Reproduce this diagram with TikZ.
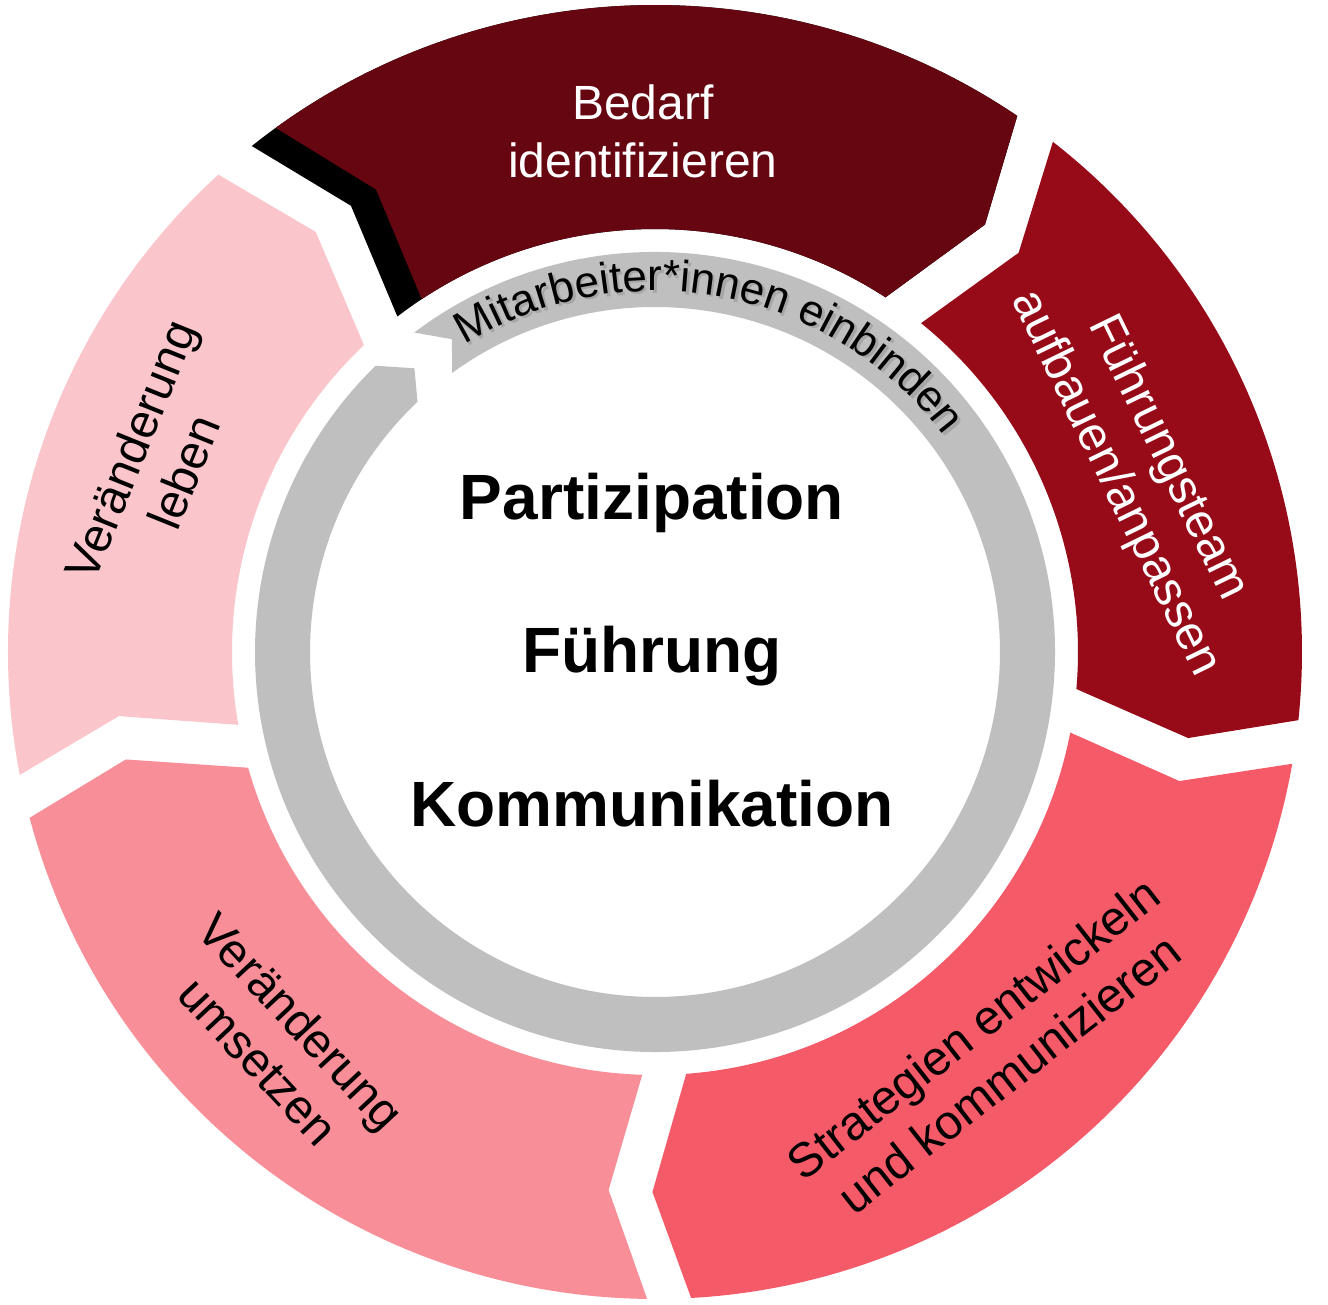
\documentclass[tikz,border=0pt]{standalone}
\usepackage{fontspec}
\setmainfont{Liberation Sans}
\usetikzlibrary{decorations.text}
\definecolor{cBedarf}{HTML}{660610}
\definecolor{cFuehr}{HTML}{970A17}
\definecolor{cStrat}{HTML}{F55A69}
\definecolor{cUms}{HTML}{F88E98}
\definecolor{cLeben}{HTML}{FAC6CC}
\definecolor{cGray}{HTML}{BFBFBF}
\definecolor{cShadow}{HTML}{A6A6A6}
% segment: outer-trailing, mid-trailing, inner-trailing, outer-leading, mid-leading, inner-leading, colour
\newcommand\cycseg[7]{%
  \fill[#7] (#1:647pt) arc[start angle=#1, end angle=#4, radius=647pt]
    -- (#5:540pt) -- (#6:423pt)
    arc[start angle=#6, end angle=#3, radius=423pt]
    -- (#2:540pt) -- cycle;}
\newcommand\ringlabel[2]{%
  \path[decorate, #1, decoration={text along path, text align=center,
    text={|\fontsize{44}{44}\selectfont\color{#2}|Mitarbeiter*innen einbinden}}]
    (130:361pt) arc[start angle=130, end angle=28.6, radius=361pt];}
\begin{document}
\begin{tikzpicture}[x=1pt,y=1pt,
  segtext/.style={font=\fontsize{48}{58}\selectfont, align=center, inner sep=0pt},
  midtext/.style={font=\fontsize{64}{64}\selectfont\bfseries, anchor=base, inner sep=0pt}]
\useasboundingbox (-655,-653) rectangle (673,652);
\fill[white] (-655,-653) rectangle (673,652);
% outer segments
\cycseg{128.55}{124.27}{127.52}{55.95}{52.33}{56.98}{black}
\cycseg{125.89}{121.09}{123.46}{55.95}{52.33}{56.98}{cBedarf}
\cycseg{52.05}{47.67}{51.02}{-6.05}{-9.17}{-5.02}{cFuehr}
\cycseg{-9.95}{-13.83}{-10.98}{-86.8}{-90.27}{-85.77}{cStrat}
\cycseg{-90.7}{-94.93}{-91.73}{-165.15}{-168.52}{-164.12}{cUms}
\cycseg{190.95}{186.82}{189.92}{132.45}{128.93}{133.48}{cLeben}
% inner gray ring arrow
\fill[cGray] (127:400pt) arc[start angle=127, end angle=-225.7, radius=400pt]
  -- (-229.7:372pt) -- (-226.5:345pt)
  arc[start angle=-226.5, end angle=126, radius=345pt]
  -- (123:373pt) -- cycle;
% text along the ring, with a soft shadow
\ringlabel{shift={(2.5,-2.5)}}{cShadow}
\ringlabel{}{black}
% segment labels
\node[segtext, text=white] (bedarf) at (-12,521) {Bedarf\\identifizieren};
\node[segtext, text=white, rotate=-64] (fuehrung) at (486,181) {Führungsteam\\aufbauen/anpassen};
\node[segtext, text=black, rotate=38] (strat) at (336,-399) {Strategien entwickeln\\und kommunizieren};
\node[segtext, text=black, rotate=-47] (umsetzen) at (-375,-389) {Veränderung\\umsetzen};
\node[segtext, text=black, rotate=68] (leben) at (-498,191) {Veränderung\\leben};
% centre labels
\node[midtext] (part) at (-3,132) {Partizipation};
\node[midtext] (fuehr) at (-3,-21) {Führung};
\node[midtext] (komm) at (-3,-175) {Kommunikation};
\end{tikzpicture}
\end{document}
